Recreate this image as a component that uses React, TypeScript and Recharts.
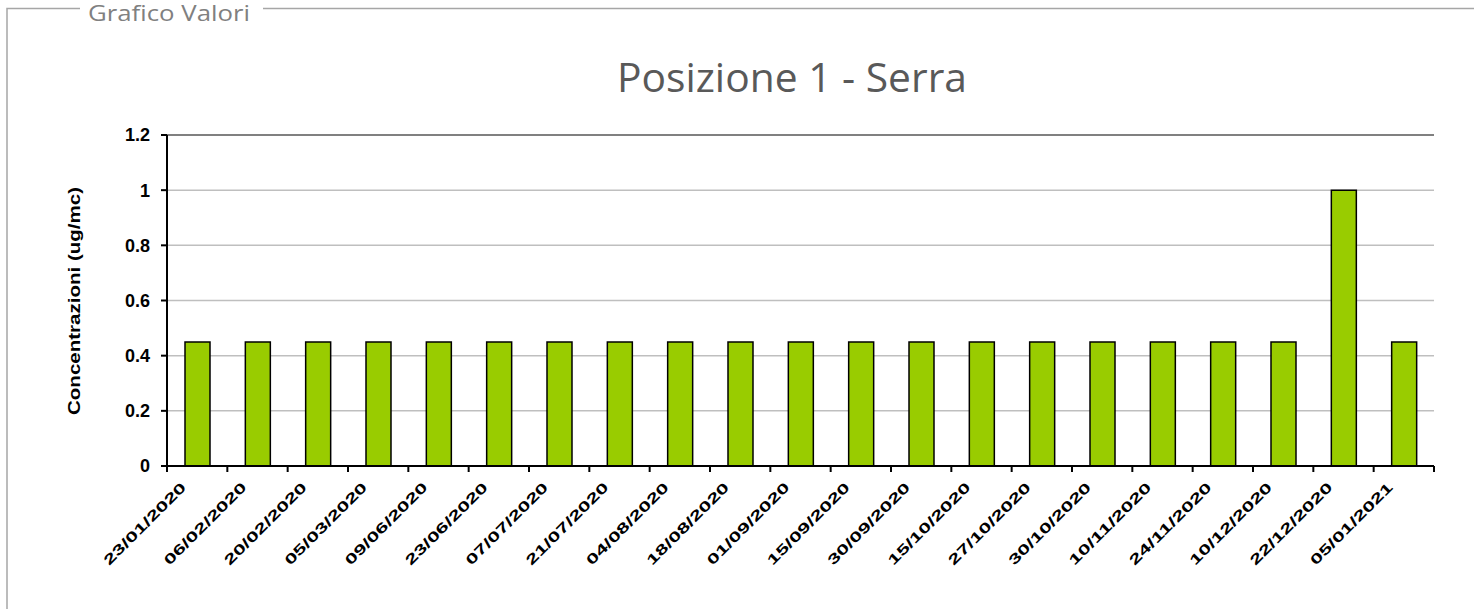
import React from 'react';
import { BarChart, Bar, XAxis, YAxis, CartesianGrid, ReferenceLine } from 'recharts';

// date di campionamento
const dates = [
  '23/01/2020', '06/02/2020', '20/02/2020', '05/03/2020', '09/06/2020',
  '23/06/2020', '07/07/2020', '21/07/2020', '04/08/2020', '18/08/2020',
  '01/09/2020', '15/09/2020', '30/09/2020', '15/10/2020', '27/10/2020',
  '30/10/2020', '10/11/2020', '24/11/2020', '10/12/2020', '22/12/2020',
  '05/01/2021'
];
const concentrazioni = [
  0.45, 0.45, 0.45, 0.45, 0.45, 0.45, 0.45, 0.45, 0.45, 0.45,
  0.45, 0.45, 0.45, 0.45, 0.45, 0.45, 0.45, 0.45, 0.45, 1.0,
  0.45
];
const yTicks = [0, 0.2, 0.4, 0.6, 0.8, 1, 1.2];

const W = 1481;
const H = 609;
const M = { top: 135, right: 47, bottom: 103, left: 107 };
const Y_AXIS_W = 60;
const PLOT_W = W - M.left - M.right - Y_AXIS_W;
const BAND = PLOT_W / dates.length;

const data = dates.map((d, i) => ({ date: d, valore: concentrazioni[i] }));

const DateTick = (props: any) => {
  const { x, y, payload, index } = props;
  const half = BAND / 2;
  const tx = x - 88;
  const ty = y + 100;
  return (
    <g>
      <line x1={x - half} x2={x - half} y1={y} y2={y + 6} stroke="#000" strokeWidth={2} />
      {index === dates.length - 1 && (
        <line x1={x + half} x2={x + half} y1={y} y2={y + 6} stroke="#000" strokeWidth={2} />
      )}
      <text
        x={tx}
        y={ty}
        transform={`rotate(-45 ${tx} ${ty})`}
        textLength={110}
        lengthAdjust="spacingAndGlyphs"
        fontFamily="Liberation Sans, Arial, sans-serif"
        fontWeight={700}
        fontSize={14}
        fill="#000"
      >
        {payload.value}
      </text>
    </g>
  );
};

export default function App() {
  return (
    <div style={{ position: 'absolute', left: 0, top: 0, width: W, height: H, background: '#fff', overflow: 'hidden' }}>
      <svg width={W} height={H} style={{ position: 'absolute', left: 0, top: 0 }}>
        <path d="M7 609 V8.5 H80 M263 8.5 H1474" fill="none" stroke="#a6a6a6" strokeWidth={1.5} />
        <text x={88} y={21} textLength={162} lengthAdjust="spacingAndGlyphs"
          fontFamily="Open Sans, sans-serif" fontSize={22} fill="#808080">Grafico Valori</text>
        <text x={617} y={92} textLength={350} lengthAdjust="spacingAndGlyphs"
          fontFamily="Open Sans, sans-serif" fontSize={41} fill="#595959">Posizione 1 - Serra</text>
        <text x={80} y={415} transform="rotate(-90 80 415)" textLength={228} lengthAdjust="spacingAndGlyphs"
          fontFamily="Liberation Sans, Arial, sans-serif" fontWeight={700} fontSize={17} fill="#000">
          Concentrazioni (ug/mc)
        </text>
      </svg>
      <div style={{ position: 'absolute', left: 0, top: 0 }}>
        <BarChart width={W} height={H} data={data} margin={M} barSize={25}>
          <CartesianGrid vertical={false} stroke="#bfbfbf" strokeWidth={1.5} />
          <XAxis
            dataKey="date"
            interval={0}
            height={40}
            axisLine={{ stroke: '#000', strokeWidth: 2 }}
            tickLine={false}
            tickSize={0}
            tickMargin={0}
            tick={(p: any) => <DateTick {...p} />}
          />
          <YAxis
            width={Y_AXIS_W}
            domain={[0, 1.2]}
            ticks={yTicks}
            interval={0}
            axisLine={{ stroke: '#000', strokeWidth: 2 }}
            tickLine={{ stroke: '#000', strokeWidth: 2 }}
            tickSize={6}
            tickMargin={11}
            tick={{ fill: '#000', fontSize: 18, fontWeight: 700, fontFamily: 'Liberation Sans, Arial, sans-serif' }}
          />
          <YAxis
            yAxisId="r"
            orientation="right"
            width={0}
            domain={[0, 1.2]}
            tick={false}
            tickLine={false}
            axisLine={{ stroke: '#808080', strokeWidth: 2 }}
          />
          <ReferenceLine y={1.2} stroke="#808080" strokeWidth={2} />
          <Bar dataKey="valore" fill="#99cc00" stroke="#000" strokeWidth={1.5} isAnimationActive={false} />
        </BarChart>
      </div>
    </div>
  );
}
